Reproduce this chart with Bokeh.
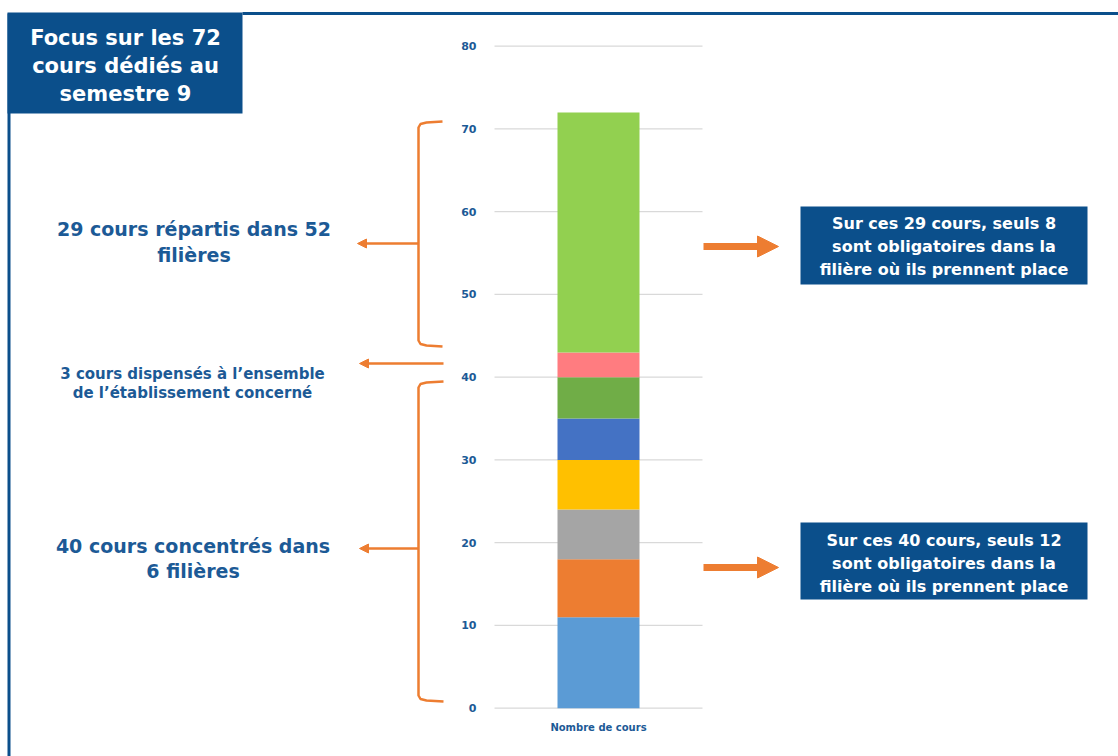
from bokeh.plotting import figure
from bokeh.models import Range1d, LinearAxis, FixedTicker, Arrow, NormalHead, ColumnDataSource
from bokeh.core.properties import value
from bokeh.embed import file_html
from bokeh.resources import INLINE

# ---- data ----
categories = ["Nombre de cours"]
series_names = ["Groupe 1", "Groupe 2", "Groupe 3", "Groupe 4", "Groupe 5", "Groupe 6", "Groupe 7", "Groupe 8"]
series_values = [11, 7, 6, 6, 5, 5, 3, 29]
series_colors = ["#5B9BD5", "#ED7D31", "#A5A5A5", "#FFC000", "#4472C4", "#70AD47", "#FF7C80", "#92D050"]
y_ticks = [0, 10, 20, 30, 40, 50, 60, 70, 80]

title_lines = ["Focus sur les 72", "cours dédiés au", "semestre 9"]
upper_label = ["29 cours répartis dans 52", "filières"]
middle_label = ["3 cours dispensés à l’ensemble", "de l’établissement concerné"]
lower_label = ["40 cours concentrés dans", "6 filières"]
upper_box = ["Sur ces 29 cours, seuls 8", "sont obligatoires dans la", "filière où ils prennent place"]
lower_box = ["Sur ces 40 cours, seuls 12", "sont obligatoires dans la", "filière où ils prennent place"]

# ---- styling ----
NAVY = "#0B4F8B"
TXT = "#1C5A96"
ORANGE = "#ED7D31"
FONT_NAME = "DejaVu Sans"
FONT = value(FONT_NAME)

W, H = 1118, 756
Y0 = 707.7      # screen y of value 0
PX = 8.275      # pixels per unit

p = figure(width=W, height=H, x_range=Range1d(0, W), y_range=Range1d(H, 0),
           output_backend="svg", toolbar_location=None, min_border=0,
           x_axis_type=None, y_axis_type=None)
p.outline_line_color = None
p.background_fill_color = "white"
p.extra_y_ranges = {"count": Range1d(start=(Y0 - H) / PX, end=Y0 / PX)}

# gridlines
p.segment(x0=494, x1=702, y0=y_ticks, y1=y_ticks, y_range_name="count",
          line_color="#D9D9D9", line_width=1.3)

# stacked bar
data = {"x": [598] * len(categories), "cat": categories}
for n, v in zip(series_names, series_values):
    data[n] = [v]
src = ColumnDataSource(data)
p.vbar_stack(series_names, x="x", width=82, color=series_colors, source=src,
             y_range_name="count", line_color=None)

# y axis
yax = LinearAxis(y_range_name="count", fixed_location=494, ticker=FixedTicker(ticks=y_ticks),
                 axis_line_color=None, major_tick_line_color=None, minor_tick_line_color=None,
                 major_label_text_font=FONT_NAME, major_label_text_font_style="bold",
                 major_label_text_font_size="11px", major_label_text_color=TXT,
                 major_label_standoff=12)
p.add_layout(yax, "left")

# x axis (category label)
xax = LinearAxis(fixed_location=Y0, ticker=FixedTicker(ticks=[598]),
                 major_label_overrides={598: categories[0]},
                 axis_line_color=None, major_tick_line_color=None, minor_tick_line_color=None,
                 major_label_text_font=FONT_NAME, major_label_text_font_style="bold",
                 major_label_text_font_size="10px", major_label_text_color=TXT,
                 major_label_standoff=8)
p.add_layout(xax, "below")

# frame lines
p.line(x=[242, W], y=[13, 13], line_color=NAVY, line_width=3)
p.line(x=[8.5, 8.5], y=[13, H], line_color=NAVY, line_width=3)

# title box
p.quad(left=[7], right=[242], top=[12], bottom=[113], fill_color=NAVY, line_color=None)
p.text(x=[125] * 3, y=[37, 65, 93], text=title_lines, text_font=FONT, text_font_style="bold",
       text_font_size="21px", text_color="white", text_align="center", text_baseline="middle")

# braces
p.line(x=[442, 426, 420, 418, 418, 420, 426, 442],
       y=[121, 122, 123.5, 127, 340, 343.5, 345, 346], line_color=ORANGE, line_width=2.5)
p.line(x=[443, 426, 420, 418, 418, 420, 426, 443],
       y=[381, 382, 383.5, 387, 695, 698.5, 700, 701], line_color=ORANGE, line_width=2.5)

def small_arrow(x0, x1, y):
    p.add_layout(Arrow(x_start=x0, y_start=y, x_end=x1, y_end=y, line_color=ORANGE, line_width=2.5,
                       end=NormalHead(size=9, fill_color=ORANGE, line_color=ORANGE)))

small_arrow(418, 357, 243)
small_arrow(443, 359, 363)
small_arrow(418, 359, 548)

def big_arrow(y):
    p.add_layout(Arrow(x_start=703, y_start=y, x_end=778, y_end=y, line_color=ORANGE, line_width=7,
                       end=NormalHead(size=21, fill_color=ORANGE, line_color=ORANGE)))

big_arrow(246)
big_arrow(567)

# left labels
p.text(x=[193.5] * 2, y=[228, 254], text=upper_label, text_font=FONT, text_font_style="bold",
       text_font_size="19px", text_color=TXT, text_align="center", text_baseline="middle")
p.text(x=[192] * 2, y=[373.5, 392.5], text=middle_label, text_font=FONT, text_font_style="bold",
       text_font_size="15px", text_color=TXT, text_align="center", text_baseline="middle")
p.text(x=[192.5] * 2, y=[545, 570], text=lower_label, text_font=FONT, text_font_style="bold",
       text_font_size="19px", text_color=TXT, text_align="center", text_baseline="middle")

# right boxes
p.quad(left=[800, 800], right=[1087, 1087], top=[206, 522], bottom=[284, 599],
       fill_color=NAVY, line_color=None)
p.text(x=[943.5] * 3, y=[222.5, 245.5, 268.5], text=upper_box, text_font=FONT, text_font_style="bold",
       text_font_size="16px", text_color="white", text_align="center", text_baseline="middle")
p.text(x=[943.5] * 3, y=[539.5, 562.5, 585.5], text=lower_box, text_font=FONT, text_font_style="bold",
       text_font_size="16px", text_color="white", text_align="center", text_baseline="middle")

open("out.html", "w").write(file_html(p, INLINE))
